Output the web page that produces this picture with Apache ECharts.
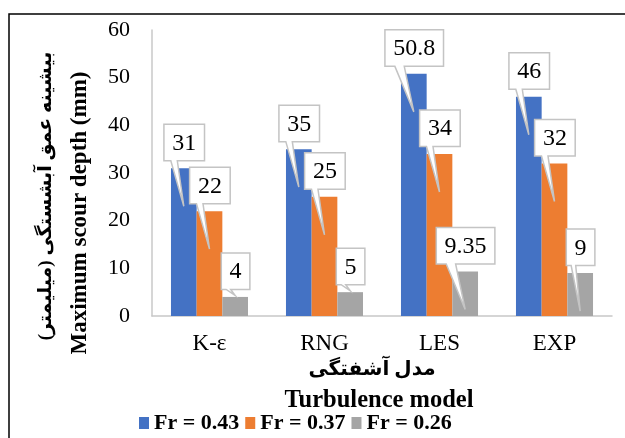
<!DOCTYPE html>
<html>
<head>
<meta charset="utf-8">
<script src="https://cdn.jsdelivr.net/npm/echarts@6/dist/echarts.min.js"></script>
<style>
  html, body { margin: 0; padding: 0; background: #fff; }
  #chart { width: 625px; height: 438px; }
</style>
</head>
<body>
<div id="chart"></div>
<script>
// Turbulence models on the category axis
const categories = ['K-ε', 'RNG', 'LES', 'EXP'];
// Froude numbers, one series each
const seriesNames = ['Fr = 0.43', 'Fr = 0.37', 'Fr = 0.26'];
// Maximum scour depth (mm)
const fr043 = [31, 35, 50.8, 46];
const fr037 = [22, 25, 34, 32];
const fr026 = [4, 5, 9.35, 9];
// Value axis ticks
const yMin = 0, yMax = 60, yStep = 10;

const colors = ['#4472C4', '#ED7D31', '#A5A5A5'];
const seriesValues = [fr043, fr037, fr026];
const CAT_GAP = 0.33;
const SERIF = '"Liberation Serif", "Times New Roman", "DejaVu Sans", serif';
const LABEL_FONT = '24px ' + SERIF;

const measureCtx = document.createElement('canvas').getContext('2d');
function textWidth(str, font) {
  measureCtx.font = font;
  return measureCtx.measureText(str).width;
}

// Callout points: [category index, value, series index]
const calloutData = [];
seriesValues.forEach((vals, si) => {
  vals.forEach((v, ci) => calloutData.push([ci, v, si]));
});

// Rectangular callout with a wedge pointing down into its bar
function renderCallout(params, api) {
  const ci = api.value(0), v = api.value(1), si = api.value(2);
  const top = api.coord([ci, v]);
  const zero = api.coord([ci, 0]);
  const catW = api.size([1, 0])[0];
  const bw = catW * (1 - CAT_GAP) / 3;
  const cx = top[0] + (si - 1) * bw;
  const label = String(v);
  const W = textWidth(label, LABEL_FONT) + 16.6;
  const H = 36.5;
  const L = cx - W / 2 + 0.4;
  const B = top[1] - 7.5;
  const T = B - H;
  let tipY = top[1] + 38;
  if (tipY > zero[1] - 2) tipY = B + 6;
  const x1 = L + 0.17 * W, x2 = L + 0.33 * W;
  return {
    type: 'group',
    children: [
      {
        type: 'polygon',
        shape: { points: [[L, T], [L + W, T], [L + W, B], [x2, B], [cx, tipY], [x1, B], [L, B]] },
        style: { fill: '#fff', stroke: '#c4c4c4', lineWidth: 1.5 }
      },
      {
        type: 'text',
        style: {
          text: label, x: L + W / 2, y: T + H / 2 + 1,
          fill: '#000', font: LABEL_FONT, align: 'center', verticalAlign: 'middle'
        }
      }
    ]
  };
}

const chart = echarts.init(document.getElementById('chart'), null, { renderer: 'canvas' });

const barSeries = seriesNames.map((name, i) => ({
  name: name,
  type: 'bar',
  data: seriesValues[i],
  barGap: '0%',
  barCategoryGap: (CAT_GAP * 100) + '%',
  itemStyle: { color: colors[i] },
  z: 2
}));

chart.setOption({
  animation: false,
  backgroundColor: '#fff',
  color: colors,
  grid: { left: 152, right: 13, top: 30, bottom: 122, containLabel: false },
  xAxis: {
    type: 'category',
    data: categories,
    axisLine: { show: true, lineStyle: { color: '#c8c8c8', width: 1.5 } },
    axisTick: { show: false },
    axisLabel: { color: '#000', fontSize: 23, fontFamily: SERIF, margin: 16 }
  },
  yAxis: {
    type: 'value',
    min: yMin, max: yMax, interval: yStep,
    axisLine: { show: true, lineStyle: { color: '#c8c8c8', width: 1.5 } },
    axisTick: { show: false },
    splitLine: { show: false },
    axisLabel: { color: '#000', fontSize: 22, fontFamily: SERIF, margin: 22 }
  },
  legend: {
    data: seriesNames,
    left: 139, top: 412, padding: 0,
    icon: 'rect', itemWidth: 10, itemHeight: 12, itemGap: 6,
    textStyle: { color: '#000', fontSize: 22, fontWeight: 'bold', fontFamily: SERIF }
  },
  graphic: [
    {
      type: 'rect', silent: true, z: 100,
      shape: { x: 9, y: 14, width: 700, height: 500 },
      style: { fill: 'none', stroke: '#000', lineWidth: 1.5 }
    },
    {
      type: 'text', x: 46, y: 196, rotation: Math.PI / 2,
      style: {
        text: 'بیشینه عمق آبشستگی (میلیمتر)', fill: '#000',
        font: 'bold 19px ' + SERIF, align: 'center', verticalAlign: 'middle'
      }
    },
    {
      type: 'text', x: 80, y: 213, rotation: Math.PI / 2,
      style: {
        text: 'Maximum scour depth (mm)', fill: '#000',
        font: 'bold 23px ' + SERIF, align: 'center', verticalAlign: 'middle'
      }
    },
    {
      type: 'text', x: 372, y: 370,
      style: {
        text: 'مدل آشفتگی', fill: '#000',
        font: 'bold 20px ' + SERIF, align: 'center', verticalAlign: 'middle'
      }
    },
    {
      type: 'text', x: 379, y: 401,
      style: {
        text: 'Turbulence model', fill: '#000',
        font: 'bold 24.5px ' + SERIF, align: 'center', verticalAlign: 'middle'
      }
    }
  ],
  series: barSeries.concat([{
    type: 'custom',
    name: 'callouts',
    renderItem: renderCallout,
    data: calloutData,
    encode: { x: 0, y: 1 },
    z: 10,
    silent: true
  }])
});
</script>
</body>
</html>
